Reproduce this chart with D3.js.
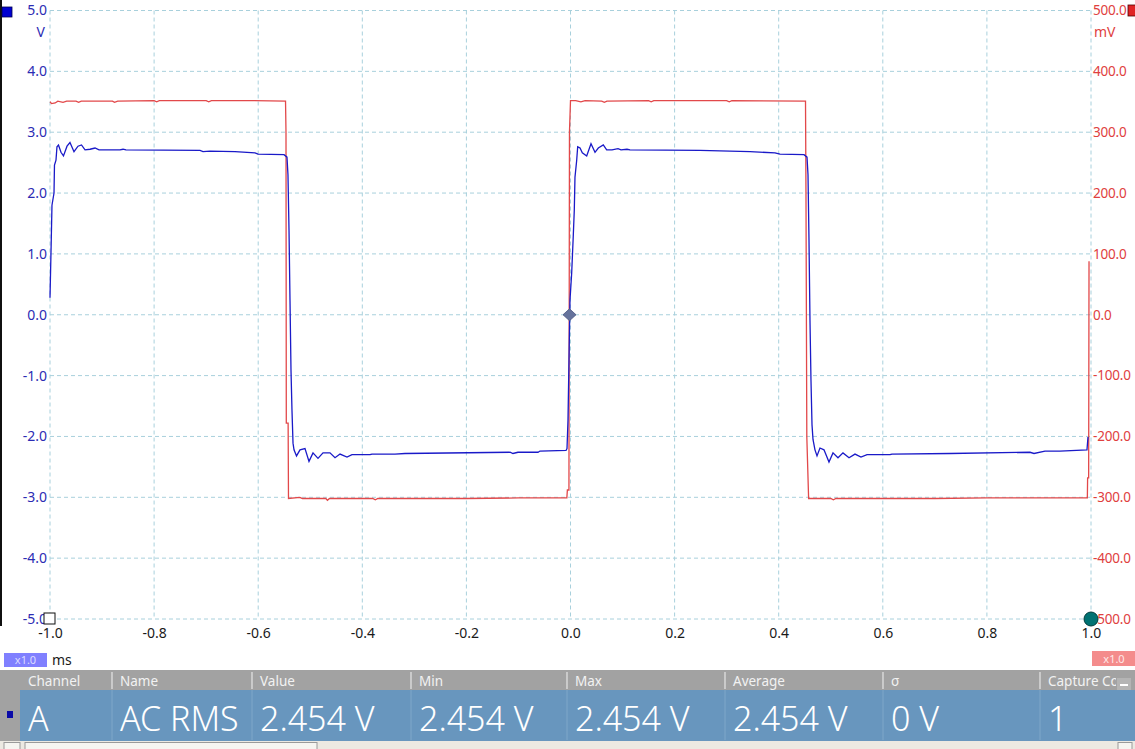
<!DOCTYPE html>
<html>
<head>
<meta charset="utf-8">
<script src="https://cdn.jsdelivr.net/npm/d3@7"></script>
<style>
  html, body { margin: 0; padding: 0; background: #ffffff; overflow: hidden; }
  svg { display: block; font-family: "Noto Sans", "Open Sans", sans-serif; }
</style>
</head>
<body>
<svg id="chart" width="1135" height="749"></svg>
<script>
// ---------- data ----------
const xTicks = [-1.0, -0.8, -0.6, -0.4, -0.2, 0.0, 0.2, 0.4, 0.6, 0.8, 1.0];
const leftTicks = [5, 4, 3, 2, 1, 0, -1, -2, -3, -4, -5];
const rightTicks = [500, 400, 300, 200, 100, 0, -100, -200, -300, -400, -500];
const leftUnit = "V";
const rightUnit = "mV";
const timeUnit = "ms";
const scaleLabel = "x1.0";

// Channel A (blue, volts)
const chATime = [-1.000,-0.998,-0.9962,-0.9923,-0.9914,-0.9885,-0.9866,-0.9837,-0.9789,-0.9741,-0.9673,-0.9616,-0.9539,-0.9462,-0.9395,-0.9327,-0.9231,-0.9135,-0.9058,-0.8655,-0.8597,-0.8540,-0.7118,-0.7061,-0.6926,-0.6446,-0.6061,-0.6004,-0.5504,-0.5447,-0.5428,-0.5408,-0.5389,-0.5370,-0.5351,-0.5331,-0.5312,-0.5264,-0.5197,-0.5101,-0.5024,-0.4947,-0.4851,-0.4755,-0.4621,-0.4524,-0.4428,-0.4294,-0.4198,-0.3852,-0.3814,-0.3372,-0.3180,-0.1162,-0.1105,-0.1009,-0.0624,-0.0586,-0.0086,-0.0067,-0.0048,-0.0029,-0.0010,0.0023,0.0054,0.0073,0.0086,0.0119,0.0138,0.0183,0.0227,0.0311,0.0394,0.0471,0.0534,0.0630,0.0695,0.0797,0.0913,0.0970,0.1085,0.1143,0.2488,0.3064,0.3449,0.3929,0.4025,0.4486,0.4544,0.4563,0.4582,0.4601,0.4620,0.4640,0.4659,0.4697,0.4736,0.4793,0.4870,0.4966,0.5043,0.5139,0.5235,0.5351,0.5466,0.5581,0.5697,0.6138,0.6176,0.7291,0.8828,0.8905,0.9116,0.9404,0.9923,0.9942];
const chAVolts = [0.28,1.06,1.80,2.00,2.46,2.54,2.76,2.79,2.67,2.61,2.77,2.83,2.68,2.77,2.79,2.71,2.72,2.74,2.71,2.71,2.72,2.71,2.70,2.68,2.69,2.68,2.66,2.64,2.63,2.59,2.30,1.39,0.24,-0.91,-1.57,-2.11,-2.22,-2.32,-2.22,-2.20,-2.41,-2.27,-2.36,-2.27,-2.27,-2.35,-2.29,-2.34,-2.30,-2.30,-2.29,-2.29,-2.28,-2.26,-2.28,-2.26,-2.26,-2.24,-2.23,-2.20,-1.73,-0.74,0.24,0.69,1.31,1.72,2.26,2.54,2.76,2.74,2.66,2.61,2.81,2.67,2.74,2.79,2.71,2.71,2.73,2.71,2.72,2.71,2.70,2.69,2.68,2.66,2.64,2.63,2.59,2.30,1.23,-0.09,-1.07,-1.81,-2.05,-2.22,-2.32,-2.19,-2.22,-2.42,-2.27,-2.35,-2.27,-2.35,-2.29,-2.34,-2.30,-2.30,-2.29,-2.28,-2.26,-2.28,-2.24,-2.24,-2.22,-2.01];

// Channel B (red, millivolts)
const chBTime = [-1.000,-0.997,-0.990,-0.985,-0.975,-0.968,-0.950,-0.945,-0.940,-0.880,-0.876,-0.870,-0.800,-0.795,-0.790,-0.700,-0.695,-0.690,-0.620,-0.5475,-0.5466,-0.5460,-0.5425,-0.5418,-0.520,-0.515,-0.470,-0.467,-0.463,-0.380,-0.375,-0.370,-0.200,-0.100,-0.007,-0.006,-0.003,-0.002,0.000,0.010,0.020,0.028,0.060,0.065,0.070,0.150,0.155,0.160,0.300,0.305,0.310,0.4515,0.4524,0.4540,0.4575,0.500,0.505,0.510,0.700,0.800,0.9930,0.9935,0.9955,0.9962];
const chBMillivolts = [350,347,348,351,349,351,351,349,351,351,349,351,352,350,352,352,350,352,352,351,300,-178,-178,-302,-300,-302,-302,-305,-302,-302,-304,-302,-302,-301,-301,-288,-288,300,352,352,350,352,351,349,351,352,350,352,352,350,352,351,200,-200,-302,-302,-304,-302,-302,-301,-301,-268,-268,88];

// measurement table
const tableHeaders = ["Channel", "Name", "Value", "Min", "Max", "Average", "σ", "Capture Count"];
const tableValues = ["A", "AC RMS", "2.454 V", "2.454 V", "2.454 V", "2.454 V", "0 V", "1"];

// ---------- drawing ----------
const svg = d3.select("#chart");
const W = 1135;
const plot = { left: 50, right: 1091, top: 10.5, bottom: 619 };

const x = d3.scaleLinear().domain([-1, 1]).range([plot.left, plot.right]);
const yL = d3.scaleLinear().domain([-5, 5]).range([plot.bottom, plot.top]);
const yR = d3.scaleLinear().domain([-500, 500]).range([plot.bottom, plot.top]);

const blueTrace = "#1a1ac8";
const redTrace = "#e2484a";
const blueText = "#2c2cb4";
const redText = "#e0403e";
const gridColor = "#a8d0dc";

// left dark border
svg.append("rect").attr("x", 0).attr("y", 0).attr("width", 2).attr("height", 626).attr("fill", "#101010");

// grid
const grid = svg.append("g");
grid.selectAll("line.v").data(xTicks).join("line")
  .attr("x1", d => x(d)).attr("x2", d => x(d))
  .attr("y1", plot.top).attr("y2", plot.bottom)
  .attr("stroke", gridColor).attr("stroke-width", 1).attr("stroke-dasharray", "4,3");
grid.selectAll("line.h").data(leftTicks).join("line")
  .attr("x1", plot.left).attr("x2", plot.right)
  .attr("y1", d => yL(d)).attr("y2", d => yL(d))
  .attr("stroke", gridColor).attr("stroke-width", 1).attr("stroke-dasharray", "4,3");

// axes (plain hyphen minus as in the reference)
const fmt1 = d => d3.format(".1f")(d).replace("\u2212", "-");
const leftAxis = svg.append("g").attr("transform", `translate(${plot.left - 3},0)`)
  .call(d3.axisLeft(yL).tickValues(leftTicks).tickFormat(fmt1).tickSize(0).tickPadding(0));
leftAxis.select(".domain").remove();
leftAxis.selectAll("text").attr("fill", blueText).attr("font-size", 14).attr("font-family", "Noto Sans");

const rightAxis = svg.append("g").attr("transform", `translate(${plot.right + 2},0)`)
  .call(d3.axisRight(yR).tickValues(rightTicks).tickFormat(fmt1).tickSize(0).tickPadding(0));
rightAxis.select(".domain").remove();
rightAxis.selectAll("text").attr("fill", redText).attr("font-size", 13.5).attr("font-family", "Noto Sans")
  .attr("letter-spacing", -0.2);

const bottomAxis = svg.append("g").attr("transform", `translate(0,${plot.bottom + 9})`)
  .call(d3.axisBottom(x).tickValues(xTicks).tickFormat(fmt1).tickSize(0).tickPadding(0));
bottomAxis.select(".domain").remove();
bottomAxis.selectAll("text").attr("fill", "#1a1a1a").attr("font-size", 14).attr("font-family", "Noto Sans");

// unit labels
svg.append("text").attr("x", 45).attr("y", 37).attr("text-anchor", "end")
  .attr("fill", blueText).attr("font-size", 14).text(leftUnit);
svg.append("text").attr("x", 1094).attr("y", 37)
  .attr("fill", redText).attr("font-size", 14).text(rightUnit);

// traces
const lineA = d3.line().x((d, i) => x(chATime[i])).y(d => yL(d));
const lineB = d3.line().x((d, i) => x(chBTime[i])).y(d => yR(d));
svg.append("path").datum(chBMillivolts).attr("d", lineB)
  .attr("fill", "none").attr("stroke", redTrace).attr("stroke-width", 1.3);
svg.append("path").datum(chAVolts).attr("d", lineA)
  .attr("fill", "none").attr("stroke", blueTrace).attr("stroke-width", 1.3);

// markers
svg.append("rect").attr("x", 2).attr("y", 7).attr("width", 10).attr("height", 10)
  .attr("fill", "#0000d0").attr("stroke", "#000050").attr("stroke-width", 0.8);
svg.append("rect").attr("x", 1128).attr("y", 5).attr("width", 8).attr("height", 11)
  .attr("fill", "#e02424").attr("stroke", "#500000").attr("stroke-width", 0.8);
svg.append("rect").attr("x", x(-1) - 6).attr("y", yL(-5) - 6).attr("width", 11).attr("height", 11)
  .attr("fill", "#ffffff").attr("stroke", "#111").attr("stroke-width", 1);
svg.append("circle").attr("cx", x(1)).attr("cy", yR(-500)).attr("r", 7)
  .attr("fill", "#007272").attr("stroke", "#003c3c").attr("stroke-width", 1);
const tx = x(0) - 1, ty = yL(0);
svg.append("path").attr("d", `M${tx - 6.5},${ty} L${tx},${ty - 6} L${tx + 6.5},${ty} L${tx},${ty + 6} Z`)
  .attr("fill", "#66739c").attr("stroke", "#4a5580").attr("stroke-width", 0.8);

// scale boxes
svg.append("rect").attr("x", 4).attr("y", 653).attr("width", 43).attr("height", 14).attr("fill", "#8080ff");
svg.append("text").attr("x", 25.5).attr("y", 664).attr("text-anchor", "middle")
  .attr("fill", "#dcdcff").attr("font-size", 11).text(scaleLabel);
svg.append("text").attr("x", 52).attr("y", 665).attr("fill", "#1a1a1a").attr("font-size", 14).text(timeUnit);
svg.append("rect").attr("x", 1092).attr("y", 651).attr("width", 43).attr("height", 15).attr("fill", "#f48c8c");
svg.append("text").attr("x", 1114).attr("y", 662.5).attr("text-anchor", "middle")
  .attr("fill", "#ffe8e8").attr("font-size", 11).text(scaleLabel);

// ---------- measurement table ----------
const colX = [20, 112, 252, 411, 567, 725, 883, 1040, 1135];
const tbl = svg.append("g");
tbl.append("rect").attr("x", 0).attr("y", 670).attr("width", W).attr("height", 20).attr("fill", "#a2a2a2");
tbl.append("rect").attr("x", 0).attr("y", 690).attr("width", 20).attr("height", 51).attr("fill", "#a2a2a2");
tbl.append("rect").attr("x", 20).attr("y", 690).attr("width", W - 20).attr("height", 51).attr("fill", "#6896be");
tbl.append("rect").attr("x", 7).attr("y", 711).attr("width", 6).attr("height", 7).attr("fill", "#0a0aa8");

const defs = svg.append("defs");
colX.slice(0, -1).forEach((cx, i) => {
  defs.append("clipPath").attr("id", "clip" + i)
    .append("rect").attr("x", cx).attr("y", 670).attr("width", (i === 7 ? 1117 : colX[i + 1]) - cx - 1).attr("height", 72);
});
tbl.selectAll("line.sepH").data(colX.slice(1, -1)).join("line")
  .attr("x1", d => d).attr("x2", d => d).attr("y1", 672).attr("y2", 689)
  .attr("stroke", "#e6e6e6").attr("stroke-width", 1.2);
tbl.selectAll("line.sepD").data(colX.slice(1, -1)).join("line")
  .attr("x1", d => d).attr("x2", d => d).attr("y1", 690).attr("y2", 740)
  .attr("stroke", "#7fa7c9").attr("stroke-width", 1);
tbl.selectAll("text.hdr").data(tableHeaders).join("text")
  .attr("x", (d, i) => colX[i] + 8).attr("y", 686)
  .attr("clip-path", (d, i) => `url(#clip${i})`)
  .attr("fill", "#f2f2f2").attr("font-size", 13.5).text(d => d);
tbl.selectAll("text.val").data(tableValues).join("text")
  .attr("x", (d, i) => colX[i] + 8).attr("y", 731)
  .attr("fill", "#ffffff").attr("font-size", 34).attr("font-weight", 300).text(d => d);
// minimise button
tbl.append("rect").attr("x", 1117).attr("y", 678).attr("width", 14).attr("height", 12).attr("fill", "#b4b4b4");
tbl.append("rect").attr("x", 1120).attr("y", 684).attr("width", 8).attr("height", 2).attr("fill", "#ffffff");

// bottom strip
tbl.append("rect").attr("x", 0).attr("y", 741).attr("width", W).attr("height", 8).attr("fill", "#ece9e2");
tbl.append("rect").attr("x", 25).attr("y", 742.5).attr("width", 292).attr("height", 10)
  .attr("fill", "#f6f5f1").attr("stroke", "#9a9a9a").attr("stroke-width", 1);
tbl.append("rect").attr("x", 4).attr("y", 742.5).attr("width", 16).attr("height", 10)
  .attr("fill", "#f6f5f1").attr("stroke", "#9a9a9a").attr("stroke-width", 1);
tbl.append("rect").attr("x", 1118).attr("y", 742.5).attr("width", 14).attr("height", 10)
  .attr("fill", "#f6f5f1").attr("stroke", "#9a9a9a").attr("stroke-width", 1);
</script>
</body>
</html>
